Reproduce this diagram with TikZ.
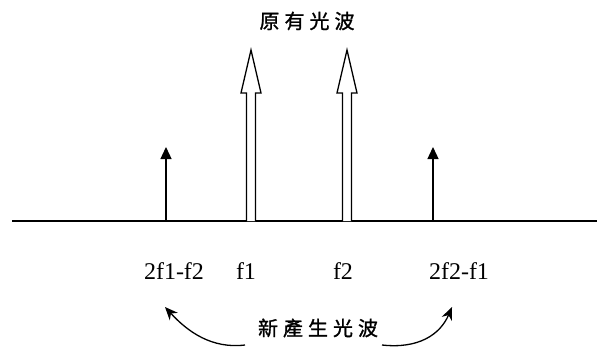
\documentclass[tikz,border=0pt]{standalone}
\usepackage{fontspec}
\setmainfont{Liberation Serif}
\newfontfamily\cjk[FakeBold=1.2]{Noto Sans CJK TC}
\usetikzlibrary{arrows.meta}

\begin{document}
\begin{tikzpicture}[x=1pt, y=-1pt, line width=1.3pt]
    \tikzset{
        freq/.style={font=\fontsize{24}{24}\selectfont, anchor=base, inner sep=0pt},
        wave/.style={font=\cjk\fontsize{20}{20}\selectfont, inner sep=0pt},
        spike/.style={-{Triangle[length=12pt, width=11pt]}},
        curvearrow/.style={-{Stealth[length=13pt, width=11pt]}},
    }
    \useasboundingbox (0,0) rectangle (597,349);

    % axis
    \coordinate (axisL) at (12,221);
    \coordinate (axisR) at (597,221);
    \draw (axisL) -- (axisR);

    % original waves (hollow arrows)
    \foreach \cx/\nm in {251/f1, 347/f2} {
        \draw[fill=white] (\cx-4.5,221) -- (\cx-4.5,93) -- (\cx-10,93) -- (\cx,50)
            -- (\cx+10,93) -- (\cx+4.5,93) -- (\cx+4.5,221);
    }
    \node[wave] (orig) at (307,21) {原\kern5pt 有\kern5pt 光\kern5pt 波};

    % new waves
    \coordinate (baseL) at (166,221);
    \coordinate (tipL) at (166,147);
    \coordinate (baseR) at (433,221);
    \coordinate (tipR) at (433,147);
    \draw[spike] (baseL) -- (tipL);
    \draw[spike] (baseR) -- (tipR);

    % labels
    \node[freq] (l1) at (174,279) {2f1-f2};
    \node[freq] (l2) at (246,279) {f1};
    \node[freq] (l3) at (343,279) {f2};
    \node[freq] (l4) at (459,279) {2f2-f1};

    \node[wave] (new) at (318,328) {新\kern5pt 產\kern5pt 生\kern5pt 光\kern5pt 波};
    \coordinate (startL) at (245,345);
    \coordinate (endL) at (165,307);
    \coordinate (startR) at (382,345);
    \coordinate (endR) at (452,307);
    \draw[curvearrow] (startL) .. controls (212,349) and (188,332) .. (endL);
    \draw[curvearrow] (startR) .. controls (418,349) and (440,335) .. (endR);
\end{tikzpicture}
\end{document}
